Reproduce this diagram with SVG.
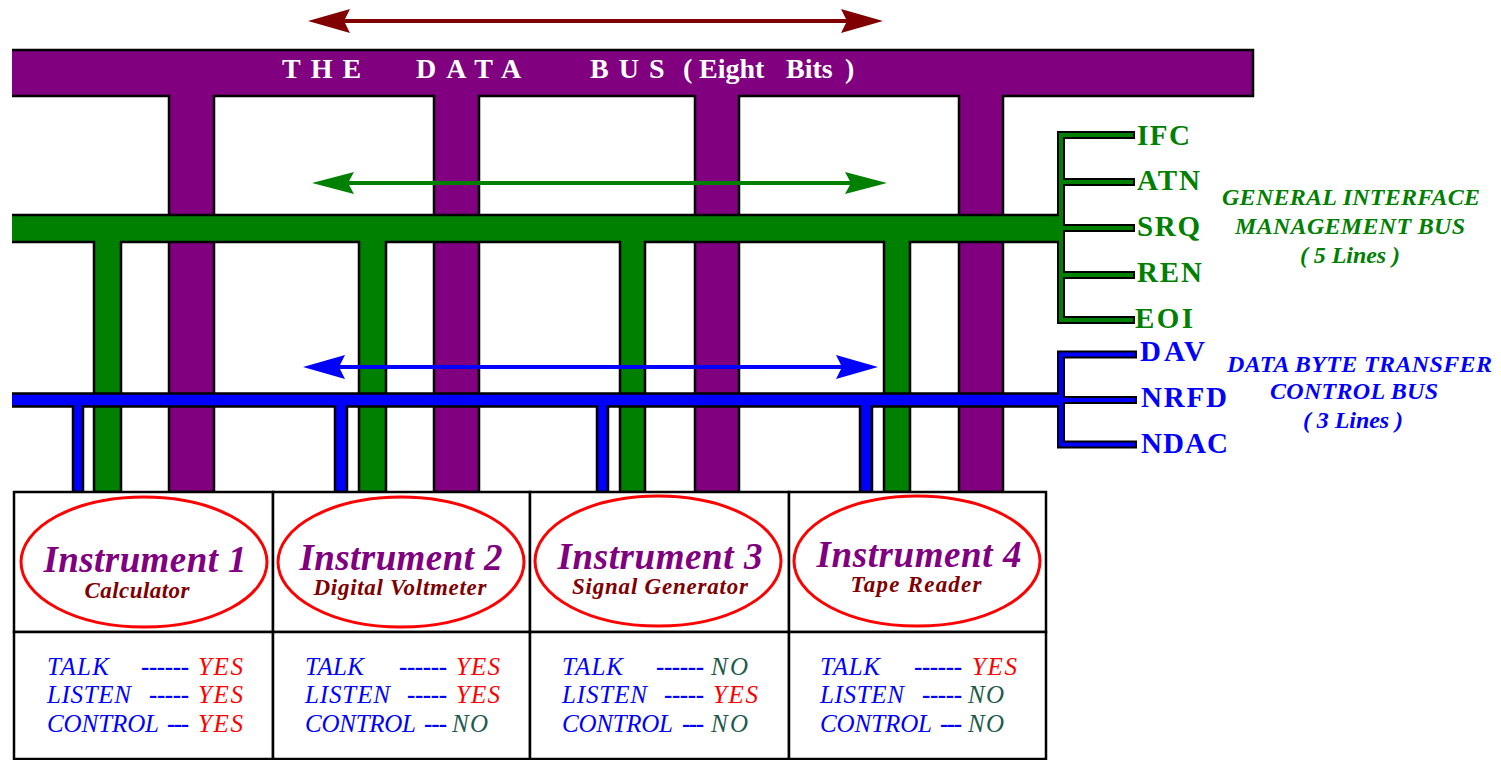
<svg xmlns="http://www.w3.org/2000/svg" width="1501" height="760" viewBox="0 0 1501 760">
<style>
.bus{stroke:#000;stroke-width:2.5;stroke-linejoin:miter}
.brk{fill:none;stroke:#000;stroke-width:8}
.cell{fill:#fff;stroke:#000;stroke-width:2.5}
.ell{fill:#fff;stroke:#f00;stroke-width:3}
.ttl{font-family:"Liberation Serif",serif;font-weight:bold;font-size:28px;fill:#fff}
.sig{font-family:"Liberation Serif",serif;font-weight:bold;font-size:29px}
.lbl{font-family:"Liberation Serif",serif;font-weight:bold;font-style:italic;font-size:24px}
.ins{font-family:"Liberation Serif",serif;font-weight:bold;font-style:italic;font-size:37px;fill:#800080}
.sub{font-family:"Liberation Serif",serif;font-weight:bold;font-style:italic;font-size:23px;fill:#800000}
.row{font-family:"Liberation Serif",serif;font-style:italic;font-size:25px}
.k{fill:#0000ff}
.d{fill:#0000ff;font-weight:bold;font-style:normal}
.y{fill:#ff0000}
.n{fill:#1e5a4c}
</style>
<defs>
<marker id="arR" viewBox="-8 -13 44 26" refX="0" refY="0" markerWidth="44" markerHeight="26" markerUnits="userSpaceOnUse" orient="auto-start-reverse"><path d="M35,0 L-7,-12 L-1,0 L-7,12 Z" fill="#800000"/></marker>
<marker id="arG" viewBox="-8 -13 44 26" refX="0" refY="0" markerWidth="44" markerHeight="26" markerUnits="userSpaceOnUse" orient="auto-start-reverse"><path d="M35,0 L-7,-11 L-1,0 L-7,11 Z" fill="#008000"/></marker>
<marker id="arB" viewBox="-8 -13 44 26" refX="0" refY="0" markerWidth="44" markerHeight="26" markerUnits="userSpaceOnUse" orient="auto-start-reverse"><path d="M35,0 L-7,-12 L-1,0 L-7,12 Z" fill="#0000ff"/></marker>
</defs>
<rect width="1501" height="760" fill="#fff"/>

<g id="connectors">
  <!-- data bus (purple) -->
  <path class="bus" fill="#800080" d="M12,50 H1253 V96 H1003 V492 H959 V96 H739 V492 H695 V96 H479 V492 H434 V96 H214 V492 H169 V96 H12"/>
  <!-- management bus (green) -->
  <path class="brk" d="M1135,135 H1061 V320 H1135 M1061,182 H1135 M1061,228 H1135 M1061,275 H1135"/>
  <path class="bus" fill="#008000" d="M12,215 H1061 V242 H910 V492 H884 V242 H645 V492 H620 V242 H386 V492 H359 V242 H121 V492 H94 V242 H12"/>
  <path fill="none" stroke="#008000" stroke-width="4" d="M1133,135 H1061 V320 H1133 M1061,182 H1133 M1061,228 H1133 M1061,275 H1133"/>
  <!-- transfer bus (blue) -->
  <path class="brk" d="M1137,354.5 H1061 V444.5 H1137 M1061,400 H1137"/>
  <path class="bus" fill="#0000ff" d="M12,393.5 H1061 V406.5 H872 V492 H860 V406.5 H608 V492 H597 V406.5 H347 V492 H335 V406.5 H83 V492 H73 V406.5 H12"/>
  <path fill="none" stroke="#0000ff" stroke-width="4" d="M1135,354.5 H1061 V444.5 H1135 M1061,400 H1135"/>
  <!-- direction arrows -->
  <line x1="343" y1="21" x2="848" y2="21" stroke="#800000" stroke-width="4" marker-start="url(#arR)" marker-end="url(#arR)"/>
  <line x1="347" y1="183" x2="852" y2="183" stroke="#008000" stroke-width="4" marker-start="url(#arG)" marker-end="url(#arG)"/>
  <line x1="338" y1="367" x2="843" y2="367" stroke="#0000ff" stroke-width="4" marker-start="url(#arB)" marker-end="url(#arB)"/>
</g>

<g id="bus-title">
  <text class="ttl" x="282" y="78" letter-spacing="10">THE</text>
  <text class="ttl" x="416" y="78" letter-spacing="10">DATA</text>
  <text class="ttl" x="590" y="78" letter-spacing="10">BUS</text>
  <text class="ttl" x="683" y="78">(</text>
  <text class="ttl" x="699" y="78">Eight</text>
  <text class="ttl" x="786" y="78">Bits</text>
  <text class="ttl" x="845" y="78">)</text>
</g>

<g id="mgmt-labels" fill="#008000">
  <text class="sig" x="1137" y="145" textLength="53">IFC</text>
  <text class="sig" x="1137" y="190" textLength="63">ATN</text>
  <text class="sig" x="1137" y="236" textLength="63">SRQ</text>
  <text class="sig" x="1137" y="282" textLength="65">REN</text>
  <text class="sig" x="1135" y="328" textLength="58">EOI</text>
  <text class="lbl" x="1222" y="205" textLength="258">GENERAL INTERFACE</text>
  <text class="lbl" x="1235" y="234" textLength="230">MANAGEMENT BUS</text>
  <text class="lbl" x="1300" y="263" textLength="100">( 5 Lines )</text>
</g>

<g id="transfer-labels" fill="#0000ff">
  <text class="sig" x="1140" y="361" textLength="65">DAV</text>
  <text class="sig" x="1141" y="407" textLength="86">NRFD</text>
  <text class="sig" x="1141" y="453" textLength="87">NDAC</text>
  <text class="lbl" x="1227" y="372" textLength="265">DATA BYTE TRANSFER</text>
  <text class="lbl" x="1270" y="399" textLength="168">CONTROL BUS</text>
  <text class="lbl" x="1303" y="428" textLength="100">( 3 Lines )</text>
</g>

<g id="instrument1">
  <rect class="cell" x="14" y="492" width="259" height="140"/>
  <rect class="cell" x="14" y="632" width="259" height="127"/>
  <ellipse class="ell" cx="144" cy="562" rx="123" ry="65"/>
  <text class="ins" x="145" y="572" text-anchor="middle" textLength="203">Instrument 1</text>
  <text class="sub" x="137" y="598" text-anchor="middle" textLength="105">Calculator</text>
  <g class="row">
    <text class="k" x="47" y="675" textLength="62">TALK</text><text class="d" x="141" y="675" textLength="48">------</text><text class="y" x="198" y="675" textLength="45">YES</text>
    <text class="k" x="47" y="703" textLength="84">LISTEN</text><text class="d" x="149" y="703" textLength="40">-----</text><text class="y" x="198" y="703" textLength="45">YES</text>
    <text class="k" x="47" y="732" textLength="112">CONTROL</text><text class="d" x="167" y="732" textLength="22">---</text><text class="y" x="198" y="732" textLength="45">YES</text>
  </g>
</g>

<g id="instrument2">
  <rect class="cell" x="273" y="492" width="257" height="140"/>
  <rect class="cell" x="273" y="632" width="257" height="127"/>
  <ellipse class="ell" cx="401" cy="562" rx="123" ry="65"/>
  <text class="ins" x="401" y="570" text-anchor="middle" textLength="203">Instrument 2</text>
  <text class="sub" x="400" y="595" text-anchor="middle" textLength="173">Digital Voltmeter</text>
  <g class="row">
    <text class="k" x="305" y="675" textLength="59">TALK</text><text class="d" x="399" y="675" textLength="48">------</text><text class="y" x="456" y="675" textLength="44">YES</text>
    <text class="k" x="305" y="703" textLength="85">LISTEN</text><text class="d" x="407" y="703" textLength="40">-----</text><text class="y" x="456" y="703" textLength="44">YES</text>
    <text class="k" x="305" y="732" textLength="111">CONTROL</text><text class="d" x="424" y="732" textLength="23">---</text><text class="n" x="452" y="732" textLength="36">NO</text>
  </g>
</g>

<g id="instrument3">
  <rect class="cell" x="530" y="492" width="259" height="140"/>
  <rect class="cell" x="530" y="632" width="259" height="127"/>
  <ellipse class="ell" cx="658" cy="561" rx="123" ry="65"/>
  <text class="ins" x="660" y="569" text-anchor="middle" textLength="205">Instrument 3</text>
  <text class="sub" x="660" y="594" text-anchor="middle" textLength="176">Signal Generator</text>
  <g class="row">
    <text class="k" x="562" y="675" textLength="61">TALK</text><text class="d" x="656" y="675" textLength="48">------</text><text class="n" x="711" y="675" textLength="37">NO</text>
    <text class="k" x="562" y="703" textLength="85">LISTEN</text><text class="d" x="664" y="703" textLength="40">-----</text><text class="y" x="713" y="703" textLength="45">YES</text>
    <text class="k" x="562" y="732" textLength="111">CONTROL</text><text class="d" x="682" y="732" textLength="22">---</text><text class="n" x="711" y="732" textLength="37">NO</text>
  </g>
</g>

<g id="instrument4">
  <rect class="cell" x="789" y="492" width="257" height="140"/>
  <rect class="cell" x="789" y="632" width="257" height="127"/>
  <ellipse class="ell" cx="917" cy="561" rx="123" ry="65"/>
  <text class="ins" x="919" y="567" text-anchor="middle" textLength="205">Instrument 4</text>
  <text class="sub" x="916" y="592" text-anchor="middle" textLength="131">Tape Reader</text>
  <g class="row">
    <text class="k" x="820" y="675" textLength="60">TALK</text><text class="d" x="914" y="675" textLength="48">------</text><text class="y" x="972" y="675" textLength="45">YES</text>
    <text class="k" x="820" y="703" textLength="84">LISTEN</text><text class="d" x="922" y="703" textLength="40">-----</text><text class="n" x="968" y="703" textLength="36">NO</text>
    <text class="k" x="820" y="732" textLength="112">CONTROL</text><text class="d" x="940" y="732" textLength="22">---</text><text class="n" x="968" y="732" textLength="36">NO</text>
  </g>
</g>
</svg>
